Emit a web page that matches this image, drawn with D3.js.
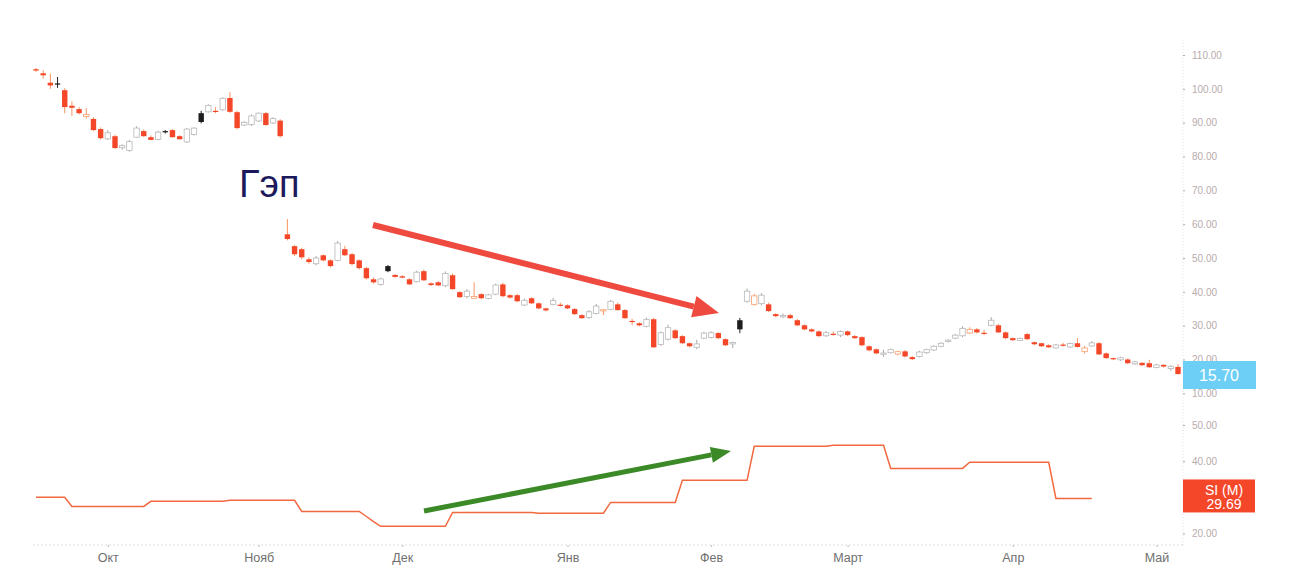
<!DOCTYPE html>
<html>
<head>
<meta charset="utf-8">
<script src="https://cdn.jsdelivr.net/npm/d3@7"></script>
<style>
    body { margin: 0; background: #fff; }
    svg { display: block; font-family: "Liberation Sans", Arial, sans-serif; }
</style>
</head>
<body>
<svg id="chart" width="1290" height="584"></svg>
<script>

// Daily candles [open, high, low, close], one per trading day
var candles = [
    // before the gap
    [105.8,106.2,105.0,105.4], [104.6,105.5,103.0,104.0], [101.8,104.5,100.0,101.0], [101.6,103.5,100.3,101.3],
    [99.6,100.2,92.8,94.6],    [95.0,96.3,92.0,94.4],     [94.0,94.6,92.4,92.8],     [91.8,94.3,91.2,92.4],
    [91.1,91.6,87.5,87.8],     [88.1,88.6,85.0,85.4],     [85.2,87.8,84.9,87.0],     [86.0,86.4,82.2,82.5],
    [82.6,83.6,82.0,83.2],     [81.8,84.9,81.4,84.4],     [85.7,88.9,85.5,88.4],     [87.5,88.0,85.8,86.0],
    [85.7,86.2,84.8,84.9],     [85.0,87.6,84.8,87.2],     [87.5,87.8,86.8,87.3],     [87.8,88.1,85.6,85.7],
    [86.0,86.3,85.0,85.1],     [84.3,88.4,84.0,88.1],     [86.5,88.6,86.2,88.4],     [92.8,93.5,89.8,90.2],
    [93.2,95.4,93.0,95.1],     [93.5,94.6,92.8,93.4],     [93.8,97.5,93.5,97.2],     [97.3,99.0,92.9,93.2],
    [93.1,93.5,88.0,88.4],     [89.3,90.4,89.0,90.1],     [89.4,92.4,89.0,92.0],     [90.5,93.0,90.2,92.8],
    [92.8,93.2,89.1,89.3],     [89.9,91.6,89.6,91.2],     [90.6,91.0,85.6,86.0],
    // after the gap
    [57.0,61.5,55.2,55.6],     [53.5,53.8,50.6,51.1],     [52.6,53.0,49.6,50.2],     [49.6,50.2,48.3,48.8],
    [48.3,50.6,47.8,50.0],     [50.8,51.0,49.0,49.3],     [49.3,49.6,47.2,47.6],     [49.3,55.0,49.0,54.4],
    [52.6,53.6,50.6,50.8],     [51.1,51.5,47.8,48.2],     [49.3,49.6,46.6,47.0],     [47.0,47.4,43.6,44.0],
    [43.7,44.2,42.4,42.8],     [42.2,44.2,41.8,43.8],     [47.6,47.9,45.8,46.1],     [45.0,45.2,44.2,44.4],
    [44.6,44.9,44.0,44.2],     [43.7,44.0,42.0,42.2],     [43.0,46.2,42.8,45.8],     [46.1,46.6,43.2,43.4],
    [42.5,42.8,41.7,42.0],     [42.8,43.2,41.7,41.9],     [41.8,46.0,41.4,45.4],     [44.9,45.4,40.6,40.8],
    [39.9,40.2,38.2,38.4],     [38.6,40.8,38.0,40.2],     [38.1,42.8,37.9,38.6],     [39.3,39.6,37.8,38.1],
    [38.0,39.4,37.8,39.1],     [39.3,42.4,39.0,42.0],     [42.2,42.7,38.4,38.7],     [39.0,39.3,38.0,38.3],
    [39.0,39.4,36.9,37.2],     [36.1,38.0,35.8,37.5],     [38.1,38.4,36.4,36.6],     [36.6,36.9,34.8,35.1],
    [35.1,35.3,34.2,34.5],     [36.3,38.2,36.0,37.4],     [36.2,36.8,35.6,36.0],     [36.0,36.3,34.9,35.1],
    [34.9,35.2,33.1,33.4],     [33.1,33.4,32.0,32.2],     [32.4,34.6,32.0,34.1],     [33.6,36.4,33.3,35.8],
    [34.5,34.8,33.1,34.7],     [34.8,37.6,34.6,37.2],     [36.3,36.8,34.4,34.6],     [34.6,34.9,32.0,32.2],
    [31.4,32.0,30.2,31.2],     [30.7,31.0,29.8,30.1],     [29.8,32.4,29.5,31.8],     [31.9,32.3,23.4,23.6],
    [24.4,28.3,24.0,27.9],     [26.0,30.3,25.6,29.4],     [28.6,29.0,26.0,26.3],     [26.9,27.2,24.6,24.8],
    [24.8,25.0,23.6,23.9],     [23.6,25.8,23.0,24.6],     [26.3,28.2,26.0,27.8],     [26.5,28.3,26.2,27.9],
    [27.8,28.1,26.0,26.3],     [26.0,26.3,24.0,24.2],     [24.6,25.3,23.4,25.0],     [31.6,32.3,27.8,28.9],
    [37.2,41.0,36.8,40.2],     [36.3,39.4,35.9,38.8],     [36.5,39.6,36.0,39.0],     [36.3,36.8,34.0,34.3],
    [33.4,33.7,32.5,32.8],     [32.6,33.6,32.2,33.0],     [33.1,33.5,32.0,32.2],     [31.6,32.0,29.8,30.1],
    [30.1,30.4,28.6,28.9],     [28.9,29.2,28.0,28.3],     [28.3,28.6,26.6,26.9],     [27.0,28.4,26.7,27.9],
    [27.6,28.3,27.0,27.5],     [27.2,28.6,26.6,28.3],     [28.3,28.6,26.9,27.2],     [26.9,27.2,26.0,26.3],
    [26.6,26.9,23.9,24.2],     [23.9,24.2,22.4,22.7],     [23.0,23.3,21.5,21.8],     [21.6,22.9,20.8,21.9],
    [22.0,23.2,21.8,22.9],     [21.6,22.6,21.2,22.3],     [22.4,22.8,20.6,20.9],     [20.7,21.0,19.8,20.1],
    [20.9,22.6,20.6,22.2],     [22.0,23.2,21.7,22.9],     [22.8,24.2,22.5,23.9],     [23.9,25.1,23.6,24.8],
    [25.3,26.0,25.0,25.7],     [26.3,27.5,26.0,27.2],     [27.0,29.8,26.6,29.2],     [27.8,29.5,27.5,28.9],
    [28.9,29.3,27.7,28.0],     [27.9,28.8,27.2,27.7],     [30.1,32.5,29.8,31.6],     [30.1,30.5,27.8,28.0],
    [28.0,28.3,26.0,26.3],     [26.3,26.5,25.5,25.7],     [25.6,26.5,25.4,26.2],     [27.5,27.9,25.7,26.0],
    [25.1,25.3,24.2,24.5],     [24.8,25.0,23.7,23.9],     [24.2,24.5,23.4,23.6],     [23.4,24.6,23.2,24.3],
    [24.4,24.9,23.8,24.1],     [23.7,25.0,23.4,24.7],     [24.8,26.3,23.5,23.7],     [22.3,24.0,21.8,23.4],
    [24.0,25.4,23.8,24.9],     [24.8,25.2,21.3,21.5],     [21.8,22.1,20.2,20.4],     [20.4,20.6,19.8,20.1],
    [19.9,20.8,19.6,20.5],     [20.0,20.3,18.6,18.9],     [18.7,19.6,18.4,19.3],     [19.0,19.2,18.0,18.3],
    [18.9,19.9,17.5,17.7],     [17.6,18.7,17.4,18.4],     [18.4,18.6,17.6,17.9],     [17.3,18.3,16.6,18.0],
    [17.8,18.6,15.5,15.7]
];

// Short interest (M), one value per trading day (ends before the last candles)
var siValues = [
    30.0, 30.0, 30.0, 30.0, 30.0,
    27.5, 27.5, 27.5, 27.5, 27.5, 27.5, 27.5, 27.5, 27.5, 27.5, 27.5,
    28.9, 28.9, 28.9, 28.9, 28.9, 28.9, 28.9, 28.9, 28.9, 28.9, 28.9,
    29.2, 29.2, 29.2, 29.2, 29.2, 29.2, 29.2, 29.2, 29.2, 29.2,
    26.1, 26.1, 26.1, 26.1, 26.1, 26.1, 26.1, 26.1, 26.1,
    24.7, 23.3,
    22.0, 22.0, 22.0, 22.0, 22.0, 22.0, 22.0, 22.0, 22.0, 22.0,
    25.8, 25.8, 25.8, 25.8, 25.8, 25.8, 25.8, 25.8, 25.8, 25.8, 25.8, 25.8,
    25.6, 25.6, 25.6, 25.6, 25.6, 25.6, 25.6, 25.6, 25.6, 25.6,
    28.6, 28.6, 28.6, 28.6, 28.6, 28.6, 28.6, 28.6, 28.6, 28.6,
    34.7, 34.7, 34.7, 34.7, 34.7, 34.7, 34.7, 34.7, 34.7, 34.7,
    44.1, 44.1, 44.1, 44.1, 44.1, 44.1, 44.1, 44.1, 44.1, 44.1, 44.1,
    44.4, 44.4, 44.4, 44.4, 44.4, 44.4, 44.4, 44.4,
    38.0, 38.0, 38.0, 38.0, 38.0, 38.0, 38.0, 38.0, 38.0, 38.0, 38.0,
    39.7, 39.7, 39.7, 39.7, 39.7, 39.7, 39.7, 39.7, 39.7, 39.7, 39.7, 39.7,
    29.69, 29.69, 29.69, 29.69, 29.69, 29.69
];

var priceTicks = [10, 20, 30, 40, 50, 60, 70, 80, 90, 100, 110];
var siTicks = [20, 40, 50]; // the 30.00 label sits under the SI badge

// Month labels sit on the first trading day of each month
var monthLabels = ["Окт", "Нояб", "Дек", "Янв", "Фев", "Март", "Апр", "Май"];
var monthIndex = [10, 31, 51, 74, 94, 113, 136, 156];

var lastPrice = 15.70;
var lastSI = 29.69;


var Sketch = {};

Sketch.chart = function(){

    var RED = "#f4472a";

    this.init = function(){
        this.svg = d3.select("#chart");
        this.initScales();
        this.renderAxes();
        this.renderSI();
        this.renderCandles();
        this.renderNotes();
        this.renderBadges();
    };


    this.initScales = function(){
        this.x = d3.scaleLinear().domain([0, candles.length - 1]).range([36, 1178]);
        this.y = d3.scaleLinear().domain([10, 110]).range([393.3, 55]);
        this.ySI = d3.scaleLinear().domain([20, 50]).range([533.5, 425]);
    };


    this.renderAxes = function(){
        var svg = this.svg;

        // faint dotted frame lines (right + bottom)
        svg.append("line")
            .attr("x1", 1183).attr("x2", 1183).attr("y1", 40).attr("y2", 545)
            .attr("stroke", "#e6e2e2").attr("stroke-dasharray", "1,2");
        svg.append("line")
            .attr("x1", 33).attr("x2", 1183).attr("y1", 545).attr("y2", 545)
            .attr("stroke", "#dcdcdc").attr("stroke-dasharray", "2,2");

        // Price axis
        var py = svg.append("g").attr("transform", "translate(1183,0)")
            .call(d3.axisRight(this.y).tickValues(priceTicks).tickFormat(d3.format(".2f")).tickSize(2).tickPadding(7));

        // SI axis
        var sy = svg.append("g").attr("transform", "translate(1183,0)")
            .call(d3.axisRight(this.ySI).tickValues(siTicks).tickFormat(d3.format(".2f")).tickSize(2).tickPadding(7));

        [py, sy].forEach(function(g){
            g.select(".domain").remove();
            g.selectAll(".tick line").attr("stroke", "#aaa");
            g.selectAll(".tick text").attr("fill", "#b8abab").style("font-size", "10px");
        });

        // Months
        var mx = svg.append("g").attr("transform", "translate(0,545)")
            .call(d3.axisBottom(this.x).tickValues(monthIndex).tickFormat(function(d, i){
                return monthLabels[i];
            }).tickSize(2).tickPadding(6));
        mx.select(".domain").remove();
        mx.selectAll(".tick line").attr("stroke", "#bbb");
        mx.selectAll(".tick text").attr("fill", "#6f6f6f").style("font-size", "12.5px");
    };


    this.renderSI = function(){
        var that = this;
        var line = d3.line()
            .x(function(d, i){ return that.x(i); })
            .y(function(d){ return that.ySI(d); });

        this.svg.append("path")
            .datum(siValues)
            .attr("d", line)
            .attr("fill", "none")
            .attr("stroke", "#f2693f")
            .attr("stroke-width", 1.5);
    };


    this.renderCandles = function(){
        var that = this;
        var w = 5.4;

        // hollow = close above open, red = close below previous close
        var rows = candles.map(function(c, i){
            var prev = i > 0 ? candles[i - 1][3] : c[0];
            return {i: i, o: c[0], h: c[1], l: c[2], c: c[3], down: c[3] < prev, filled: c[3] < c[0]};
        });

        var g = this.svg.append("g");
        var cand = g.selectAll("g").data(rows).enter().append("g");

        cand.append("line")
            .attr("x1", function(d){ return that.x(d.i); })
            .attr("x2", function(d){ return that.x(d.i); })
            .attr("y1", function(d){ return that.y(d.h); })
            .attr("y2", function(d){ return that.y(d.l); })
            .attr("stroke", function(d){
                if(d.down) return "#f7935f";
                return d.filled ? "#222" : "#a8a8a8";
            })
            .attr("stroke-width", 1);

        cand.append("rect")
            .attr("x", function(d){ return that.x(d.i) - w / 2; })
            .attr("width", w)
            .attr("y", function(d){ return that.y(Math.max(d.o, d.c)); })
            .attr("height", function(d){ return Math.max(1.2, that.y(Math.min(d.o, d.c)) - that.y(Math.max(d.o, d.c))); })
            .attr("fill", function(d){
                if(!d.filled) return "#fff";
                return d.down ? RED : "#1e1e1e";
            })
            .attr("stroke", function(d){
                if(d.filled) return "none";
                return d.down ? "#f7a070" : "#b8b8b8";
            })
            .attr("stroke-width", 0.8);
    };


    this.renderNotes = function(){
        var svg = this.svg;

        svg.append("text")
            .attr("x", 239).attr("y", 197)
            .attr("fill", "#1c1a5c")
            .style("font-size", "38px")
            .text("Гэп");

        this._arrow(373, 225, 719, 313, "#ef4a40", 6, 26, 11);
        this._arrow(424, 511, 731, 451, "#3b8a27", 5, 20, 8);
    };


    this.renderBadges = function(){
        var svg = this.svg;

        // Last price
        var yp = this.y(lastPrice);
        svg.append("rect")
            .attr("x", 1183).attr("y", yp - 13).attr("width", 73).attr("height", 28)
            .attr("fill", "#6dcff5");
        svg.append("text")
            .attr("x", 1219).attr("y", yp + 7)
            .attr("text-anchor", "middle")
            .attr("fill", "#fff")
            .style("font-size", "16px")
            .text(d3.format(".2f")(lastPrice));

        // Last SI value
        var ys = this.ySI(lastSI);
        svg.append("rect")
            .attr("x", 1183).attr("y", ys - 19).attr("width", 72).attr("height", 33)
            .attr("fill", RED);
        svg.append("text")
            .attr("x", 1224).attr("y", ys - 3)
            .attr("text-anchor", "middle")
            .attr("fill", "#fff")
            .style("font-size", "14px")
            .text("SI (M)");
        svg.append("text")
            .attr("x", 1224).attr("y", ys + 11)
            .attr("text-anchor", "middle")
            .attr("fill", "#fff")
            .style("font-size", "14px")
            .text(d3.format(".2f")(lastSI));
    };


    /*--------------------
      HELPERS
    --------------------*/

    // Straight arrow with a filled triangular head ending at (x2, y2)
    this._arrow = function(x1, y1, x2, y2, color, width, headLen, headW){
        var a = Math.atan2(y2 - y1, x2 - x1);
        var bx = x2 - headLen * Math.cos(a);
        var by = y2 - headLen * Math.sin(a);
        var nx = -Math.sin(a), ny = Math.cos(a);

        this.svg.append("line")
            .attr("x1", x1).attr("y1", y1).attr("x2", bx).attr("y2", by)
            .attr("stroke", color).attr("stroke-width", width);

        this.svg.append("path")
            .attr("d", "M" + x2 + "," + y2 +
                "L" + (bx + nx * headW) + "," + (by + ny * headW) +
                "L" + (bx - nx * headW) + "," + (by - ny * headW) + "Z")
            .attr("fill", color);
    };
};

var chart = new Sketch.chart();
chart.init();

</script>
</body>
</html>
